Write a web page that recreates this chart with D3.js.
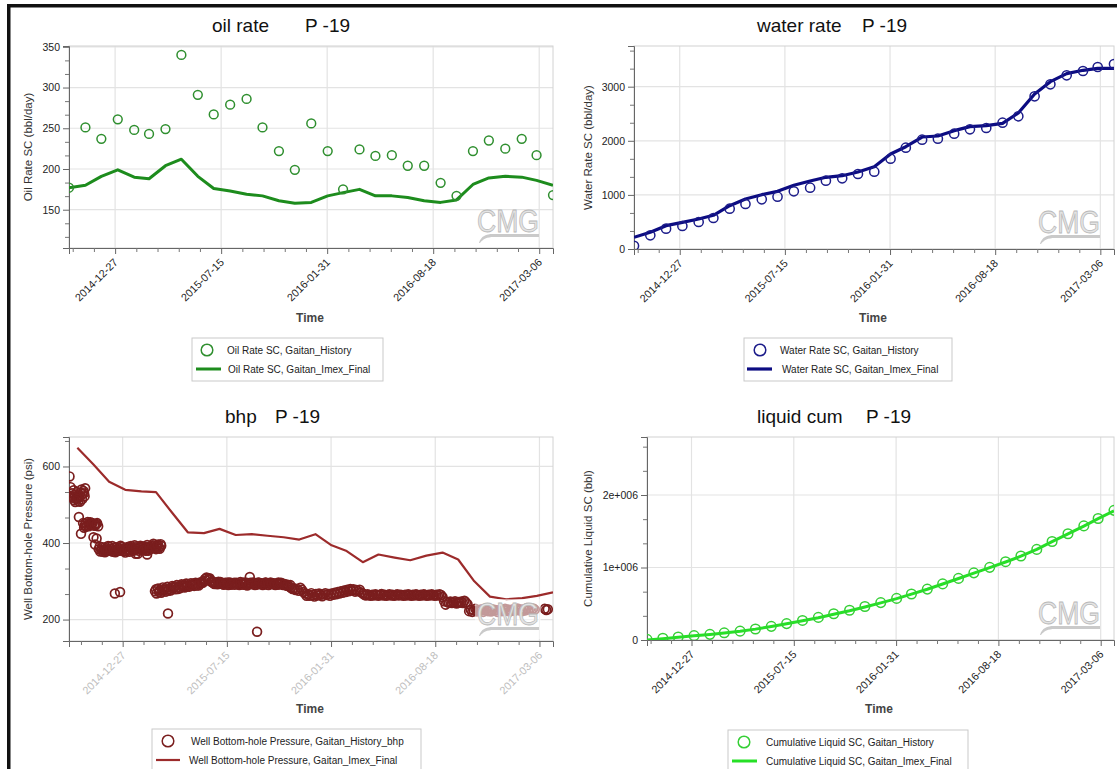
<!DOCTYPE html>
<html>
<head>
<meta charset="utf-8">
<script src="https://cdn.jsdelivr.net/npm/d3@7"></script>
<style>
  body { margin: 0; background: #fff; }
  svg { display: block; }
  text { font-family: "Liberation Sans", Arial, sans-serif; }
</style>
</head>
<body>
<svg id="chart" width="1117" height="769"></svg>
<script>
// ---- data ----------------------------------------------------------------
const months = [
  "2014-10-01","2014-11-01","2014-12-01","2015-01-01","2015-02-01","2015-03-01",
  "2015-04-01","2015-05-01","2015-06-01","2015-07-01","2015-08-01","2015-09-01",
  "2015-10-01","2015-11-01","2015-12-01","2016-01-01","2016-02-01","2016-03-01",
  "2016-04-01","2016-05-01","2016-06-01","2016-07-01","2016-08-01","2016-09-01",
  "2016-10-01","2016-11-01","2016-12-01","2017-01-01","2017-02-01","2017-03-01",
  "2017-04-01"
];
const timeTickLabels = ["2014-12-27","2015-07-15","2016-01-31","2016-08-18","2017-03-06"];

const oilHistory = [177,251,237,261,248,243,249,340,291,267,279,286,251,222,199,256,
  222,175,224,216,217,204,204,183,167,222,235,225,237,217,168];
const oilSim = [177,180,191,199,190,188,204,212,191,176,173,169,167,161,158,159,
  167,171,175,167,167,165,161,159,162,181,189,191,190,186,180];

const waterHistory = [60,253,376,425,499,573,745,832,918,967,1066,1133,1262,1306,1386,1429,
  1669,1873,2020,2039,2131,2212,2236,2335,2453,2822,3044,3210,3290,3364,3419];
const waterSim = [216,308,431,493,555,623,800,924,1004,1066,1177,1257,1325,1355,1423,1521,
  1756,1891,2070,2089,2187,2261,2279,2323,2514,2865,3093,3241,3303,3340,3340];

const liquidHistory = [8000,24000,42000,60000,78000,99000,122000,152000,188000,226000,270000,
  312000,362000,410000,462000,516000,574000,634000,702000,774000,850000,926000,1002000,
  1080000,1158000,1250000,1358000,1466000,1574000,1676000,1788000];
const liquidSim = [0,18000,38000,58000,76000,96000,120000,150000,186000,224000,266000,
  308000,356000,404000,456000,512000,570000,632000,700000,772000,848000,922000,998000,
  1076000,1156000,1250000,1356000,1464000,1572000,1674000,1780000];

const bhpSim = [649,605,560,539,535,533,479,428,426,437,421,423,419,415,409,423,
  394,379,350,370,362,355,367,375,357,300,260,253,256,262,271];

// gauge readings: [days after bhpHistoryStart, psi]
const bhpHistoryStart = "2014-09-15";
const bhpHistory = [
  [1,574],[3,546],[6,530],[8,518],[10,512],[12,507],[14,515],[16,524],[18,510],[20,520],
  [22,532],[24,540],[26,528],[28,536],[30,522],[31,543],
  [7,522],[9,538],[11,526],[13,518],[15,533],[17,516],[21,508],[25,514],[29,530],
  [19,468],[23,424],[27,452],[30,446],[33,443],[36,455],[39,450],[42,447],[45,452],[47,415],
  [48,446],[50,396],[51,449],[53,412],[54,452],[56,444],
  [29,440],[32,451],[35,447],[38,444],[41,454],[44,449],[50,445],[53,450],
  [57,384],[60,378],[63,389],[66,381],[69,376],[72,386],[75,392],[78,380],[81,385],[84,377],
  [87,388],[90,383],[93,379],[96,387],[99,393],[102,381],[105,386],[108,375],[111,384],[114,390],
  [117,382],[120,388],[123,380],[126,394],[129,385],[132,372],[135,389],[138,383],[141,391],[144,386],
  [147,380],[150,395],[153,388],[156,384],[159,392],[162,398],[165,386],[168,390],[171,396],[174,385],
  [177,393],
  [59,391],[62,383],[65,377],[68,388],[71,382],[74,379],[77,390],[80,384],[83,392],[86,381],
  [89,376],[92,389],[95,384],[98,380],[101,390],[104,385],[107,379],[110,388],[113,383],[116,377],
  [119,392],[122,385],[125,381],[128,389],[131,384],[134,380],[137,393],[140,387],[143,382],[146,390],
  [149,385],[152,380],[155,391],[158,387],[161,394],[164,389],[167,384],[170,393],[173,388],[176,397],
  [88,268],[98,272],[128,372],[150,370],[190,216],
  [165,274],[168,268],[171,281],[174,276],[177,270],[180,284],[183,278],[186,273],[189,286],[192,280],
  [195,276],[198,288],[201,283],[204,279],[207,290],[210,285],[213,282],[216,292],[219,287],[222,284],
  [225,294],[228,289],[231,286],[234,295],[237,290],[240,288],[243,296],[246,291],[249,289],
  [252,294],[255,297],[258,301],[261,306],[264,310],[267,304],[270,308],[273,299],[276,296],[279,293],
  [282,297],[285,292],[288,295],[291,298],[294,293],[297,291],[300,296],[303,294],[306,290],[309,297],
  [312,293],[315,295],[318,291],[321,296],[324,293],[327,290],[330,295],[333,292],[336,297],[339,294],
  [342,289],[345,293],[348,296],[351,292],[354,295],[357,290],[360,294],[363,297],[366,292],[369,295],
  [372,290],[375,293],[378,296],[381,291],[384,294],[387,297],[390,292],[393,295],[396,290],[399,294],
  [402,297],[405,292],[408,295],[411,290],[414,293],[417,289],[420,291],[423,286],[426,283],[429,280],
  [167,279],[173,272],[179,278],[185,282],[191,275],[197,284],[203,287],[209,280],[215,289],[221,291],
  [227,286],[233,290],[239,294],[245,289],[251,297],[257,296],[263,302],[269,306],[275,300],[281,294],
  [287,299],[293,295],[299,292],[305,297],[311,291],[317,296],[323,294],[329,298],[335,291],[341,296],
  [347,293],[353,297],[359,291],[365,296],[371,293],[377,297],[383,290],[389,295],[395,293],[401,291],
  [407,296],[413,292],[419,288],[425,290],
  [347,311],[361,168],
  [432,282],[435,277],[438,280],[441,275],[444,283],[447,278],[450,272],[453,268],[456,262],
  [459,266],[462,262],[465,269],[468,264],[471,260],[474,267],[477,263],[480,268],[483,265],[486,261],
  [489,266],[492,269],[495,264],[498,267],[501,262],[504,268],[507,265],[510,270],[513,266],[516,272],
  [519,268],[522,274],[525,270],[528,276],[531,272],[534,278],[537,274],[540,280],[543,276],[546,279],
  [549,273],[552,277],[555,274],[558,278],[561,271],[564,268],
  [567,265],[570,263],[573,266],[576,264],[579,262],[582,265],[585,263],[588,266],[591,264],[594,262],
  [597,265],[600,267],[603,263],[606,265],[609,262],[612,264],[615,266],[618,263],[621,265],[624,262],
  [627,264],[630,266],[633,263],[636,265],[639,264],[642,262],[645,265],[648,263],[651,266],[654,264],
  [657,262],[660,265],[663,263],[666,266],[669,264],[672,262],[675,265],[678,263],[681,266],[684,264],
  [687,262],[690,265],[693,263],[696,266],[699,264],[702,262],[705,265],[708,263],[711,266],[714,264],
  [717,259],
  [720,248],[723,239],[726,246],[729,244],[732,247],[735,243],[738,245],[741,248],[744,242],[747,246],
  [750,244],[753,247],[756,243],[759,249],[762,245],[765,240],
  [768,222],[771,226],[774,220],[777,224],[780,228],[783,221],[786,225],[789,223],[792,227],[795,220],
  [798,224],[801,226],[804,222],[807,225],[810,221],[813,227],[816,223],[819,225],[822,220],[825,224],
  [828,226],[831,222],[834,225],[837,228],[840,223],[843,226],[846,221],[849,224],[852,227],[855,223],
  [858,225],[861,229],[864,224],[867,226],[870,222],[873,227],[876,224],[879,230],[882,226],[885,228],
  [888,225],[891,229],[894,226],[913,228],[916,225],[919,227]
];

// ---- drawing -------------------------------------------------------------
const svg = d3.select("#chart");
const parse = d3.utcParse("%Y-%m-%d");
const endDate = parse("2017-04-01");

// window frame
svg.append("rect").attr("x", 7).attr("y", 4).attr("width", 1110).attr("height", 3.5).attr("fill", "#111");
svg.append("rect").attr("x", 7).attr("y", 4).attr("width", 3.5).attr("height", 765).attr("fill", "#111");

const monthDates = months.map(parse);
const bhpBase = parse(bhpHistoryStart);

const panels = [
  {
    id: "oil", left: 69, right: 553, top: 46, bottom: 248, start: "2014-10-01",
    yDomain: [103, 351], yMajor: [150, 200, 250, 300, 350], yFmt: d => d,
    titleA: "oil rate", titleAx: 212, titleB: "P -19", titleBx: 305, titleY: 32,
    yLabel: "Oil Rate SC (bbl/day)", yLabelX: 32,
    hist: oilHistory.map((v, i) => [monthDates[i], v]), sim: oilSim.map((v, i) => [monthDates[i], v]),
    histColor: "#2f8f2f", simColor: "#1d8c1d", simWidth: 3, r: 4.4, histWidth: 1.5,
    timeX: 310, timeY: 322, xLabelColor: "#222",
    legend: { x: 192, y: 338, w: 191, h: 43, cx: 207, tx1: 227, lx0: 196, lx1: 221, tx2: 228 },
    legendText: ["Oil Rate SC, Gaitan_History", "Oil Rate SC, Gaitan_Imex_Final"]
  },
  {
    id: "water", left: 634, right: 1114, top: 46, bottom: 249, start: "2014-10-01",
    yDomain: [0, 3752], yMajor: [0, 1000, 2000, 3000], yFmt: d => d,
    titleA: "water rate", titleAx: 757, titleB: "P -19", titleBx: 862, titleY: 32,
    yLabel: "Water Rate SC (bbl/day)", yLabelX: 592,
    hist: waterHistory.map((v, i) => [monthDates[i], v]), sim: waterSim.map((v, i) => [monthDates[i], v]),
    histColor: "#1c1c8a", simColor: "#0c0c82", simWidth: 3.2, r: 4.6, histWidth: 1.5,
    timeX: 873, timeY: 322, xLabelColor: "#222",
    legend: { x: 744, y: 338, w: 208, h: 43, cx: 760, tx1: 780, lx0: 747, lx1: 772, tx2: 782 },
    legendText: ["Water Rate SC, Gaitan_History", "Water Rate SC, Gaitan_Imex_Final"]
  },
  {
    id: "bhp", left: 69, right: 553, top: 437, bottom: 641, start: "2014-09-15",
    yDomain: [144, 677], yMajor: [200, 400, 600], yFmt: d => d,
    titleA: "bhp", titleAx: 225, titleB: "P -19", titleBx: 275, titleY: 423,
    yLabel: "Well Bottom-hole Pressure (psi)", yLabelX: 32,
    hist: bhpHistory.map(([day, v]) => [d3.utcDay.offset(bhpBase, day), v]),
    sim: bhpSim.map((v, i) => [monthDates[i], v]),
    histColor: "#7a1e1e", simColor: "#9c2b2b", simWidth: 2.2, r: 4.4, histWidth: 1.7,
    timeX: 310, timeY: 713, xLabelColor: "#bdbdbd", veil: true,
    legend: { x: 152, y: 729, w: 269, h: 50, cx: 168, tx1: 191, lx0: 156, lx1: 180, tx2: 189 },
    legendText: ["Well Bottom-hole Pressure, Gaitan_History_bhp", "Well Bottom-hole Pressure, Gaitan_Imex_Final"]
  },
  {
    id: "liquid", left: 647, right: 1114, top: 437, bottom: 640, start: "2014-10-01",
    yDomain: [0, 2800000], yMajor: [0, 1000000, 2000000],
    yFmt: d => d === 0 ? "0" : (d / 1e6) + "e+006",
    titleA: "liquid cum", titleAx: 757, titleB: "P -19", titleBx: 866, titleY: 423,
    yLabel: "Cumulative Liquid SC (bbl)", yLabelX: 592,
    hist: liquidHistory.map((v, i) => [monthDates[i], v]), sim: liquidSim.map((v, i) => [monthDates[i], v]),
    histColor: "#35cf35", simColor: "#26e026", simWidth: 3, r: 4.8, histWidth: 1.5,
    timeX: 879, timeY: 713, xLabelColor: "#222",
    legend: { x: 728, y: 730, w: 240, h: 50, cx: 744, tx1: 766, lx0: 732, lx1: 757, tx2: 766 },
    legendText: ["Cumulative Liquid SC, Gaitan_History", "Cumulative Liquid SC, Gaitan_Imex_Final"]
  }
];

function drawLogo(g, right, base, veil) {
  const lg = g.append("g").attr("transform", `translate(${right - 62},${base})`);
  if (veil) {
    lg.append("rect").attr("x", -2).attr("y", -26).attr("width", 66).attr("height", 40)
      .attr("fill", "#fff").attr("opacity", 0.55);
  }
  lg.append("text").text("CMG")
    .attr("x", 31).attr("y", 0).attr("text-anchor", "middle")
    .attr("font-family", "Liberation Serif, serif").attr("font-size", 31)
    .attr("textLength", 62).attr("lengthAdjust", "spacingAndGlyphs")
    .attr("fill", "#e4e4e4").attr("stroke", "#b9b9b9").attr("stroke-width", 0.8);
  lg.append("path")
    .attr("d", "M2,11 C4,4 9,2 16,2 L62,2 L62,5 L17,5 C10,5 6,7 3,11 Z")
    .attr("fill", "#cacaca");
}

function drawPanel(p) {
  const g = svg.append("g").attr("class", "panel-" + p.id);
  const x = d3.scaleUtc().domain([parse(p.start), endDate]).range([p.left, p.right]);
  const y = d3.scaleLinear().domain(p.yDomain).range([p.bottom, p.top]);
  const W = p.right - p.left, H = p.bottom - p.top;

  const clipId = "clip-" + p.id;
  svg.append("clipPath").attr("id", clipId)
    .append("rect").attr("x", p.left).attr("y", p.top).attr("width", W).attr("height", H);

  const majorDates = timeTickLabels.map(parse);
  const minorDates = [];
  for (let k = -5; k <= 25; k++) {
    if (k % 5 === 0) continue;
    const d = d3.utcDay.offset(majorDates[0], k * 40);
    if (d >= x.domain()[0] && d <= x.domain()[1]) minorDates.push(d);
  }
  const yStep = (p.yMajor[1] - p.yMajor[0]) / 3;
  const yMinor = [];
  for (let v = p.yMajor[0] - 3 * yStep; v <= p.yDomain[1]; v += yStep) {
    const isMajor = p.yMajor.some(m => Math.abs(m - v) < 1e-6);
    if (!isMajor && v >= p.yDomain[0]) yMinor.push(v);
  }

  // grid
  g.append("g").selectAll("line").data(majorDates).join("line")
    .attr("x1", d => x(d)).attr("x2", d => x(d)).attr("y1", p.top).attr("y2", p.bottom)
    .attr("stroke", "#e3e3e3").attr("stroke-width", 1.2);
  g.append("g").selectAll("line").data(p.yMajor).join("line")
    .attr("x1", p.left).attr("x2", p.right).attr("y1", d => y(d)).attr("y2", d => y(d))
    .attr("stroke", "#e3e3e3").attr("stroke-width", 1.2);
  g.append("rect").attr("x", p.left).attr("y", p.top).attr("width", W).attr("height", H)
    .attr("fill", "none").attr("stroke", "#d2d2d2");

  // y axis
  const yAxis = g.append("g").attr("transform", `translate(${p.left},0)`)
    .call(d3.axisLeft(y).tickValues(p.yMajor).tickSize(6).tickPadding(3).tickFormat(p.yFmt));
  yAxis.select(".domain").attr("stroke", "#666");
  yAxis.selectAll(".tick line").attr("stroke", "#666");
  yAxis.selectAll("text").attr("font-size", 10.5).attr("fill", "#222").attr("font-family", null);
  const yMinorAxis = g.append("g").attr("transform", `translate(${p.left},0)`)
    .call(d3.axisLeft(y).tickValues(yMinor).tickSize(4).tickFormat(""));
  yMinorAxis.select(".domain").remove();
  yMinorAxis.selectAll(".tick line").attr("stroke", "#777");

  // x axis
  const xAxis = g.append("g").attr("transform", `translate(0,${p.bottom})`)
    .call(d3.axisBottom(x).tickValues(majorDates).tickSize(6).tickFormat((d, i) => timeTickLabels[i]));
  xAxis.select(".domain").attr("stroke", "#666");
  xAxis.selectAll(".tick line").attr("stroke", "#666");
  xAxis.selectAll("text")
    .attr("font-size", 10.8).attr("fill", p.xLabelColor).attr("font-family", null)
    .attr("x", 0).attr("y", 0).attr("dy", 0)
    .attr("text-anchor", "end")
    .attr("transform", "translate(3,15) rotate(-45)");
  const xMinorAxis = g.append("g").attr("transform", `translate(0,${p.bottom})`)
    .call(d3.axisBottom(x).tickValues(minorDates).tickSize(4).tickFormat(""));
  xMinorAxis.select(".domain").remove();
  xMinorAxis.selectAll(".tick line").attr("stroke", "#777");

  // series
  const plot = g.append("g").attr("clip-path", `url(#${clipId})`);
  plot.append("path").datum(p.sim)
    .attr("fill", "none").attr("stroke", p.simColor).attr("stroke-width", p.simWidth)
    .attr("stroke-linejoin", "round")
    .attr("d", d3.line().x(d => x(d[0])).y(d => y(d[1])));
  plot.append("g").selectAll("circle").data(p.hist).join("circle")
    .attr("cx", d => x(d[0])).attr("cy", d => y(d[1])).attr("r", p.r)
    .attr("fill", "none").attr("stroke", p.histColor).attr("stroke-width", p.histWidth);

  drawLogo(g, p.right - 14, p.bottom - 16, p.veil);

  // titles
  const t = g.append("text").attr("y", p.titleY).attr("font-size", 19).attr("fill", "#111");
  t.append("tspan").attr("x", p.titleAx).text(p.titleA);
  t.append("tspan").attr("x", p.titleBx).text(p.titleB);

  g.append("text").text(p.yLabel)
    .attr("transform", `translate(${p.yLabelX},${(p.top + p.bottom) / 2}) rotate(-90)`)
    .attr("text-anchor", "middle").attr("font-size", 11.5).attr("fill", "#333");

  g.append("text").text("Time").attr("x", p.timeX).attr("y", p.timeY)
    .attr("text-anchor", "middle").attr("font-size", 12).attr("font-weight", "bold").attr("fill", "#444");

  // legend
  const L = p.legend;
  const lg = g.append("g");
  lg.append("rect").attr("x", L.x).attr("y", L.y).attr("width", L.w).attr("height", L.h)
    .attr("fill", "#fff").attr("stroke", "#c9c9c9");
  lg.append("circle").attr("cx", L.cx).attr("cy", L.y + 12).attr("r", 5.8)
    .attr("fill", "none").attr("stroke", p.histColor).attr("stroke-width", 1.5);
  lg.append("text").attr("x", L.tx1).attr("y", L.y + 16).attr("font-size", 10).attr("fill", "#222").text(p.legendText[0]);
  lg.append("line").attr("x1", L.lx0).attr("x2", L.lx1).attr("y1", L.y + 31).attr("y2", L.y + 31)
    .attr("stroke", p.simColor).attr("stroke-width", p.simWidth);
  lg.append("text").attr("x", L.tx2).attr("y", L.y + 35).attr("font-size", 10).attr("fill", "#222").text(p.legendText[1]);
}

panels.forEach(drawPanel);
</script>
</body>
</html>
